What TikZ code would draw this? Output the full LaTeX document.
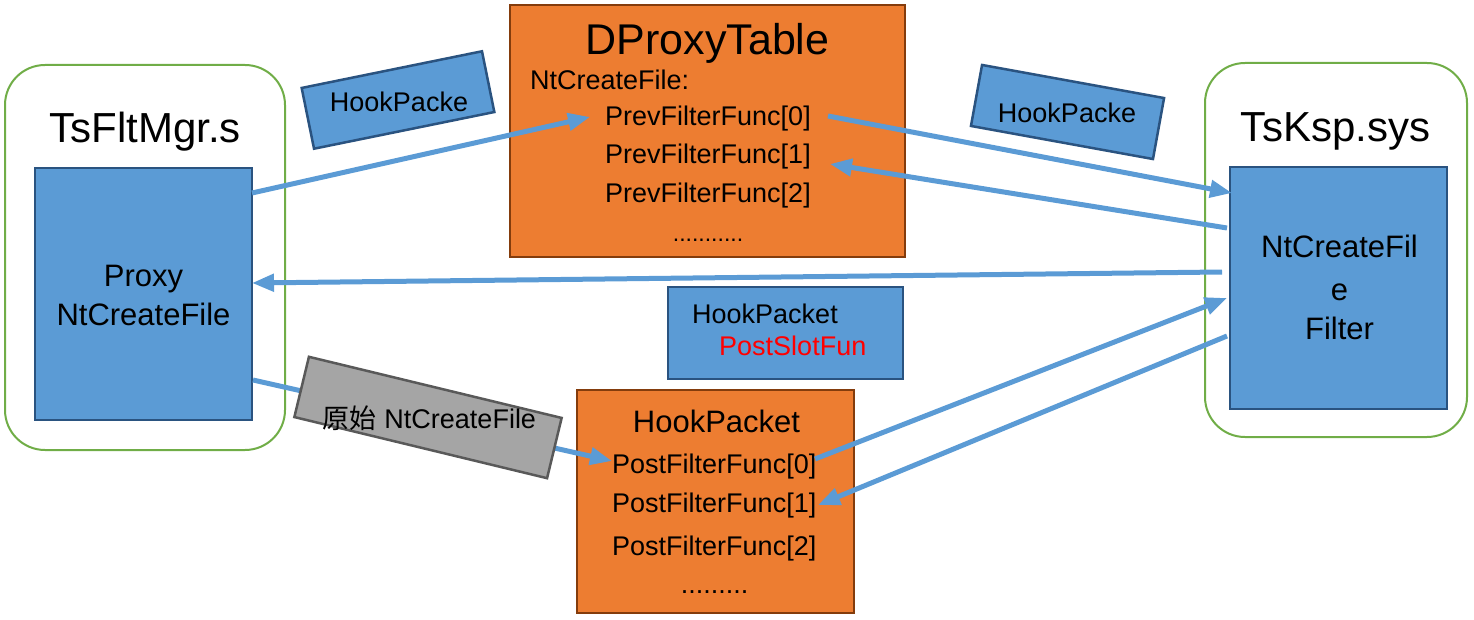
\documentclass[tikz,border=0pt]{standalone}
\usepackage{fontspec}
\setmainfont{Liberation Sans}
\newfontfamily\cjk{Noto Sans CJK SC}
\usetikzlibrary{arrows.meta}
\definecolor{bfill}{HTML}{5B9BD5}
\definecolor{bdraw}{HTML}{2A5380}
\definecolor{ofill}{HTML}{ED7D31}
\definecolor{odraw}{HTML}{843C0C}
\definecolor{gline}{HTML}{70AD47}
\definecolor{gyfill}{HTML}{A5A5A5}
\definecolor{gydraw}{HTML}{595959}
\definecolor{arrc}{HTML}{5B9BD5}
\tikzset{
  module/.style={draw=gline, line width=2pt, rounded corners=40pt},
  bluebox/.style={draw=bdraw, fill=bfill, line width=2.5pt, inner sep=0pt},
  orangebox/.style={draw=odraw, fill=ofill, line width=2.5pt, inner sep=0pt},
  greybox/.style={draw=gydraw, fill=gyfill, line width=2.5pt, inner sep=0pt},
  title/.style={font=\fontsize{42}{46}\selectfont, anchor=base, inner sep=0pt},
  big/.style={font=\fontsize{31}{36}\selectfont, anchor=base, inner sep=0pt},
  txt/.style={font=\fontsize{27}{32}\selectfont, anchor=base west, inner sep=0pt},
  ctxt/.style={font=\fontsize{27}{32}\selectfont, anchor=base, inner sep=0pt},
  arr/.style={draw=arrc, line width=5pt, -{Triangle[length=22pt,width=17pt]}},
}
\begin{document}
\begin{tikzpicture}[x=1pt,y=-1pt]
\useasboundingbox (0,0) rectangle (1474,620);
% modules
\draw[module] (5,65) rectangle (285,450);
\node (mgrtitle) [title] at (145,143) {TsFltMgr.s};
\node (proxy) [bluebox, minimum width=217pt, minimum height=252pt] at (143.5,294) {};
\node (proxyt1) [big] at (143.5,287) {Proxy};
\node (proxyt2) [big] at (143.5,325) {NtCreateFile};

\draw[module] (1205,63) rectangle (1467,437);
\node (ksptitle) [title] at (1335.5,142) {TsKsp.sys};
\node (filter) [bluebox, minimum width=217pt, minimum height=242pt] at (1338.5,288) {};
\node (filt1) [big] at (1339.5,258) {NtCreateFil};
\node (filt2) [big] at (1339.5,300) {e};
\node (filt3) [big] at (1339.5,339) {Filter};

% DProxyTable
\node (dpt) [orangebox, minimum width=395pt, minimum height=252pt] at (707.5,131) {};
\node (dpttitle) [title, font=\fontsize{43}{48}\selectfont] at (707.5,55) {DProxyTable};
\node (ntc) [txt] at (530,90) {NtCreateFile:};
\node (pf0) [txt] at (605,126) {PrevFilterFunc[0]};
\node (pf1) [txt] at (605,164) {PrevFilterFunc[1]};
\node (pf2) [txt] at (605,203) {PrevFilterFunc[2]};
\node (pdots) [ctxt, font=\fontsize{23}{28}\selectfont] at (708,242) {...........};

% HookPacket / PostSlotFun
\node (slot) [bluebox, minimum width=235pt, minimum height=92pt] at (785.5,333) {};
\node (slot1) [txt] at (692,323) {HookPacket};
\node (slot2) [txt, text=red] at (719,355) {PostSlotFun};

% bottom HookPacket
\node (hp) [orangebox, minimum width=277pt, minimum height=223pt] at (715.5,501.5) {};
\node (hptitle) [ctxt, font=\fontsize{31}{36}\selectfont] at (716.5,432) {HookPacket};
\node (qf0) [txt] at (612,473) {PostFilterFunc[0]};
\node (qf1) [txt] at (612,512) {PostFilterFunc[1]};
\node (qf2) [txt] at (612,555) {PostFilterFunc[2]};
\node (qdots) [ctxt] at (714.5,593) {.........};

% connector end points
\coordinate (p1s) at (252,193);
\coordinate (p1e) at (590,117);
\coordinate (p2s) at (828,116);
\coordinate (p2e) at (1232,193);
\coordinate (p3s) at (1227,228);
\coordinate (p3e) at (830,164);
\coordinate (p4s) at (1222,272);
\coordinate (p4e) at (252,283);
\coordinate (p5s) at (1227,336);
\coordinate (p5e) at (818,505);
\coordinate (p6s) at (815,459);
\coordinate (p6e) at (1227,298);
\coordinate (p7s) at (253,380);
\coordinate (p7e) at (612,461);

\draw[arr] (p1s) -- (p1e);
\draw[arr] (p2s) -- (p2e);
\draw[arr] (p3s) -- (p3e);
\draw[arr] (p4s) -- (p4e);
\draw[arr] (p5s) -- (p5e);
\draw[arr] (p6s) -- (p6e);
\draw[arr] (p7s) -- (p7e);

% rotated labels (box rotated, text horizontal)
\node (hk1) [bluebox, rotate=11.5, minimum width=184pt, minimum height=62pt] at (398,100) {};
\node (hk1t) [ctxt, font=\fontsize{27}{31}\selectfont] at (399,111.5) {HookPacke};
\node (hk2) [bluebox, rotate=-10.3, minimum width=185pt, minimum height=62pt] at (1067.5,112) {};
\node (hk2t) [ctxt, font=\fontsize{27}{31}\selectfont] at (1067,123) {HookPacke};
\node (orig) [greybox, rotate=-13.6, minimum width=260pt, minimum height=62pt] at (428,417.5) {};
\node (origt) [ctxt] at (429.5,428) {{\cjk 原始} NtCreateFile};
\end{tikzpicture}
\end{document}
